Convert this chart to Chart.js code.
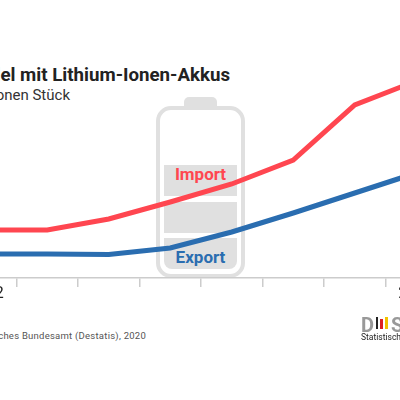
<!DOCTYPE html>
<html>
<head>
<meta charset="utf-8">
<script src="https://cdn.jsdelivr.net/npm/chart.js@4"></script>
<style>
html, body { margin: 0; padding: 0; width: 400px; height: 400px; overflow: hidden; background: #fff; font-family: Roboto, sans-serif; }
.txt { position: absolute; white-space: nowrap; line-height: 1; }
.box { position: absolute; background: #e0e0e0; }
#chartWrap { position: absolute; left: -60px; top: 0; width: 520px; height: 320px; }
</style>
</head>
<body>
<div class="txt" style="right:170px;top:66px;font-size:18.7px;font-weight:700;color:#222">Außenhandel mit Lithium-Ionen-Akkus</div>
<div class="txt" style="right:330px;top:88px;font-size:15px;color:#333">in Millionen Stück</div>

<!-- Batterie -->
<div class="box" style="left:184px;top:97px;width:33px;height:12px;border-radius:5px 5px 0 0"></div>
<div style="position:absolute;left:156px;top:106px;width:81px;height:164px;border:4px solid #e0e0e0;border-radius:15px;background:#fff"></div>
<div class="box" style="left:164px;top:165px;width:73px;height:31px"></div>
<div class="box" style="left:164px;top:202px;width:73px;height:31px"></div>
<div class="box" style="left:164px;top:238px;width:73px;height:31px;border-radius:0 0 8px 8px"></div>
<div class="txt" style="left:164px;width:73px;text-align:center;top:166px;font-size:17px;font-weight:700;color:#ff4650">Import</div>
<div class="txt" style="left:164px;width:73px;text-align:center;top:249px;font-size:17px;font-weight:700;color:#2a6db0">Export</div>

<div id="chartWrap"><canvas id="myChart" width="520" height="320"></canvas></div>

<div class="txt" style="right:254px;top:331px;font-size:9.5px;letter-spacing:0.25px;color:#555">Quelle: Statistisches Bundesamt (Destatis), 2020</div>

<!-- Logo -->
<div class="txt" style="left:361px;top:315px;font-size:20px;font-weight:700;color:#999">D</div>
<div style="position:absolute;left:376px;top:317px;width:2px;height:12px;background:#222"></div>
<div style="position:absolute;left:380px;top:319px;width:3px;height:10px;background:#d22"></div>
<div style="position:absolute;left:385px;top:317px;width:3px;height:12px;background:#f2c200"></div>
<div class="txt" style="left:391px;top:315px;font-size:20px;font-weight:700;color:#999">S</div>
<div class="txt" style="left:361px;top:333px;font-size:8.5px;color:#222">Statistisches Bundesamt</div>

<script>
const years = ["2012", "2013", "2014", "2015", "2016", "2017", "2018", "2019"];
const importValues = [96, 96, 118, 152, 188, 236, 346, 394];
const exportValues = [48, 48, 47, 60, 92, 130, 170, 210];
const shownYears = ["2012", "2019"];

const ctx = document.getElementById("myChart");
new Chart(ctx, {
    type: "line",
    data: {
        labels: years,
        datasets: [
            { label: "Import", data: importValues, borderColor: "#ff4650", borderWidth: 5, pointRadius: 0, tension: 0 },
            { label: "Export", data: exportValues, borderColor: "#2a6db0", borderWidth: 5, pointRadius: 0, tension: 0 },
        ],
    },
    options: {
        responsive: false,
        animation: false,
        layout: { padding: { left: 15, right: 13, top: 28, bottom: 0 } },
        plugins: { legend: { display: false }, title: { display: false }, tooltip: { enabled: false } },
        scales: {
            x: {
                offset: true,
                afterFit: (scale) => { scale.height = 42; },
                border: { color: "#cccccc", width: 1.5 },
                grid: { offset: true, drawOnChartArea: false, color: "#cccccc", lineWidth: 1.5, tickLength: 9 },
                ticks: {
                    autoSkip: false,
                    maxRotation: 0,
                    padding: -3,
                    color: "#222",
                    font: { family: "Roboto", size: 16 },
                    callback: function (value) {
                        const label = this.getLabelForValue(value);
                        return shownYears.includes(label) ? label : "";
                    },
                },
            },
            y: { display: false, min: 0, max: 500 },
        },
    },
});
</script>
</body>
</html>
